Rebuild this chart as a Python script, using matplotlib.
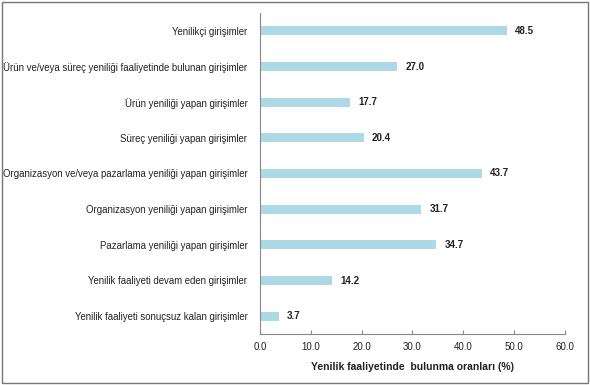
import matplotlib
matplotlib.use("Agg")
import matplotlib.pyplot as plt
from matplotlib.patches import Rectangle

categories = [
    "Yenilikçi girişimler",
    "Ürün ve/veya süreç yeniliği faaliyetinde bulunan girişimler",
    "Ürün yeniliği yapan girişimler",
    "Süreç yeniliği yapan girişimler",
    "Organizasyon ve/veya pazarlama yeniliği yapan girişimler",
    "Organizasyon yeniliği yapan girişimler",
    "Pazarlama yeniliği yapan girişimler",
    "Yenilik faaliyeti devam eden girişimler",
    "Yenilik faaliyeti sonuçsuz kalan girişimler",
]
values = [48.5, 27.0, 17.7, 20.4, 43.7, 31.7, 34.7, 14.2, 3.7]
xticks = [0, 10, 20, 30, 40, 50, 60]
xlabel = "Yenilik faaliyetinde  bulunma oranları (%)"

plt.rcParams['font.family'] = ['Liberation Sans', 'DejaVu Sans']

fig = plt.figure(figsize=(5.9, 3.85), dpi=100)
ax = fig.add_axes([260/590, 1-334/385, 305/590, 321/385])

n = len(categories)
ypos = list(range(n))
ax.barh(ypos, values, height=0.26, color="#add8e6")
ax.set_ylim(n - 0.5, -0.5)
ax.set_xlim(0, 60)
ax.set_yticks(ypos)
ax.set_yticklabels(categories, fontsize=6.9, color="#222222")
ax.tick_params(axis='y', length=0, pad=9)
ax.set_xticks(xticks)
ax.set_xticklabels([f"{t:.1f}" for t in xticks], fontsize=7, color="#222222")
ax.tick_params(axis='x', direction='in', length=3, color="#888888", pad=6)
for s in ['top', 'right']:
    ax.spines[s].set_visible(False)
ax.spines['left'].set_color("#888888")
ax.spines['bottom'].set_color("#888888")
for y, v in zip(ypos, values):
    ax.text(v + 1.6, y, f"{v:.1f}", va='center', ha='left', fontsize=7, fontweight='bold', color="#222222")
ax.set_xlabel(xlabel, fontsize=7.5, fontweight='bold', color="#222222", labelpad=7)

fig.patches.append(Rectangle((2/590, 2/385), 586/590, 381/385, transform=fig.transFigure,
                             fill=False, edgecolor="#777777", linewidth=1))

fig.savefig("out.png", dpi=100)
